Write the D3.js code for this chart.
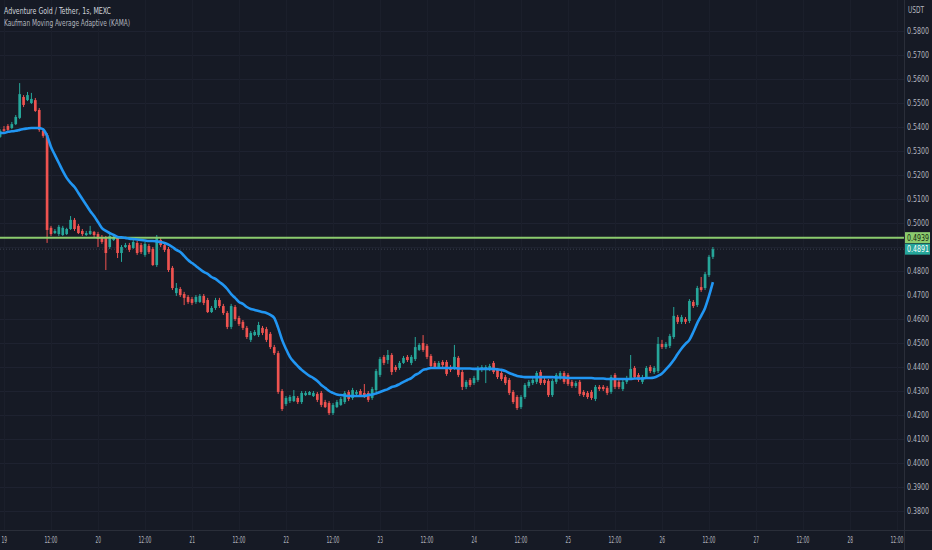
<!DOCTYPE html>
<html>
<head>
<meta charset="utf-8">
<script src="https://cdn.jsdelivr.net/npm/d3@7"></script>
<style>
    body { margin: 0; background: #161a25; }
    svg { display: block; }
    text { font-family: "DejaVu Sans", sans-serif; font-stretch: condensed; }
</style>
</head>
<body>
<svg width="932" height="550"></svg>
<script>
// hourly candles, first one at 18 23:00 (UTC)
const firstCandle = new Date(Date.UTC(2023, 6, 18, 23));

const openP = [
    0.5359, 0.5391, 0.5404, 0.5396, 0.5412, 0.5438, 0.5525, 0.5512, 0.5500, 0.5512,
    0.5471, 0.5384, 0.5367, 0.4980, 0.4958, 0.4954, 0.4950, 0.4954, 0.4975, 0.5013,
    0.4988, 0.4967, 0.4950, 0.4954, 0.4963, 0.4954, 0.4942, 0.4938, 0.4900, 0.4929,
    0.4938, 0.4875, 0.4900, 0.4908, 0.4896, 0.4917, 0.4908, 0.4867, 0.4904, 0.4892,
    0.4825, 0.4929, 0.4908, 0.4892, 0.4813, 0.4708, 0.4725, 0.4704, 0.4692, 0.4683,
    0.4671, 0.4671, 0.4696, 0.4679, 0.4629, 0.4646, 0.4679, 0.4654, 0.4625, 0.4567,
    0.4650, 0.4604, 0.4588, 0.4563, 0.4513, 0.4533, 0.4533, 0.4563, 0.4558, 0.4538,
    0.4483, 0.4458, 0.4300, 0.4246, 0.4258, 0.4258, 0.4271, 0.4254, 0.4283, 0.4283,
    0.4279, 0.4288, 0.4292, 0.4254, 0.4250, 0.4208, 0.4233, 0.4242, 0.4254, 0.4296,
    0.4271, 0.4288, 0.4300, 0.4292, 0.4292, 0.4271, 0.4304, 0.4367, 0.4442, 0.4429,
    0.4450, 0.4400, 0.4396, 0.4417, 0.4442, 0.4417, 0.4433, 0.4471, 0.4500, 0.4488,
    0.4446, 0.4417, 0.4400, 0.4421, 0.4421, 0.4400, 0.4396, 0.4438, 0.4379, 0.4317,
    0.4346, 0.4333, 0.4346, 0.4388, 0.4388, 0.4392, 0.4417, 0.4388, 0.4375, 0.4358,
    0.4346, 0.4296, 0.4275, 0.4233, 0.4275, 0.4321, 0.4333, 0.4338, 0.4379, 0.4346,
    0.4342, 0.4283, 0.4338, 0.4354, 0.4375, 0.4367, 0.4338, 0.4321, 0.4338, 0.4296,
    0.4292, 0.4296, 0.4267, 0.4317, 0.4317, 0.4313, 0.4296, 0.4367, 0.4338, 0.4308,
    0.4338, 0.4354, 0.4396, 0.4367, 0.4338, 0.4358, 0.4400, 0.4379, 0.4383, 0.4496,
    0.4483, 0.4488, 0.4525, 0.4608, 0.4588, 0.4600, 0.4592, 0.4671, 0.4658, 0.4733,
    0.4729, 0.4783, 0.4859
];
const highP = [
    0.5391, 0.5404, 0.5412, 0.5421, 0.5450, 0.5583, 0.5533, 0.5546, 0.5542, 0.5521,
    0.5479, 0.5388, 0.5375, 0.4988, 0.4975, 0.4992, 0.4988, 0.4980, 0.5029, 0.5021,
    0.4996, 0.4975, 0.4967, 0.4988, 0.4967, 0.4963, 0.4950, 0.4946, 0.4958, 0.4950,
    0.4946, 0.4908, 0.4917, 0.4917, 0.4929, 0.4925, 0.4917, 0.4921, 0.4913, 0.4900,
    0.4950, 0.4938, 0.4917, 0.4900, 0.4821, 0.4750, 0.4733, 0.4713, 0.4700, 0.4692,
    0.4700, 0.4704, 0.4704, 0.4688, 0.4654, 0.4688, 0.4688, 0.4663, 0.4633, 0.4663,
    0.4658, 0.4613, 0.4596, 0.4571, 0.4550, 0.4554, 0.4588, 0.4571, 0.4567, 0.4546,
    0.4492, 0.4467, 0.4308, 0.4279, 0.4283, 0.4304, 0.4279, 0.4300, 0.4300, 0.4300,
    0.4300, 0.4296, 0.4300, 0.4263, 0.4258, 0.4250, 0.4263, 0.4275, 0.4300, 0.4304,
    0.4313, 0.4304, 0.4308, 0.4329, 0.4300, 0.4317, 0.4392, 0.4442, 0.4450, 0.4471,
    0.4458, 0.4408, 0.4425, 0.4446, 0.4450, 0.4450, 0.4525, 0.4500, 0.4533, 0.4496,
    0.4454, 0.4425, 0.4425, 0.4429, 0.4429, 0.4408, 0.4492, 0.4446, 0.4388, 0.4346,
    0.4354, 0.4363, 0.4404, 0.4408, 0.4408, 0.4413, 0.4425, 0.4396, 0.4383, 0.4367,
    0.4354, 0.4304, 0.4283, 0.4283, 0.4333, 0.4346, 0.4354, 0.4383, 0.4388, 0.4354,
    0.4350, 0.4350, 0.4375, 0.4383, 0.4383, 0.4375, 0.4346, 0.4342, 0.4346, 0.4304,
    0.4300, 0.4304, 0.4325, 0.4325, 0.4325, 0.4321, 0.4367, 0.4375, 0.4346, 0.4346,
    0.4363, 0.4450, 0.4404, 0.4375, 0.4367, 0.4404, 0.4408, 0.4404, 0.4525, 0.4513,
    0.4504, 0.4538, 0.4650, 0.4617, 0.4617, 0.4608, 0.4683, 0.4679, 0.4738, 0.4775,
    0.4796, 0.4867, 0.4900
];
const lowP = [
    0.5355, 0.5380, 0.5384, 0.5391, 0.5408, 0.5433, 0.5483, 0.5508, 0.5496, 0.5463,
    0.5380, 0.5355, 0.4917, 0.4946, 0.4954, 0.4946, 0.4946, 0.4950, 0.4971, 0.4967,
    0.4954, 0.4946, 0.4946, 0.4950, 0.4942, 0.4900, 0.4913, 0.4804, 0.4892, 0.4925,
    0.4854, 0.4838, 0.4896, 0.4879, 0.4892, 0.4867, 0.4871, 0.4859, 0.4871, 0.4821,
    0.4817, 0.4900, 0.4879, 0.4796, 0.4721, 0.4696, 0.4692, 0.4658, 0.4663, 0.4658,
    0.4663, 0.4667, 0.4658, 0.4625, 0.4625, 0.4638, 0.4646, 0.4617, 0.4558, 0.4558,
    0.4592, 0.4571, 0.4554, 0.4517, 0.4504, 0.4529, 0.4525, 0.4533, 0.4504, 0.4475,
    0.4450, 0.4288, 0.4217, 0.4238, 0.4250, 0.4254, 0.4246, 0.4246, 0.4279, 0.4283,
    0.4275, 0.4254, 0.4233, 0.4229, 0.4200, 0.4200, 0.4229, 0.4238, 0.4246, 0.4258,
    0.4263, 0.4283, 0.4279, 0.4271, 0.4254, 0.4263, 0.4296, 0.4358, 0.4408, 0.4413,
    0.4367, 0.4379, 0.4388, 0.4413, 0.4421, 0.4408, 0.4425, 0.4467, 0.4463, 0.4433,
    0.4396, 0.4392, 0.4392, 0.4400, 0.4363, 0.4379, 0.4388, 0.4358, 0.4304, 0.4308,
    0.4317, 0.4325, 0.4338, 0.4379, 0.4333, 0.4383, 0.4371, 0.4350, 0.4342, 0.4325,
    0.4283, 0.4246, 0.4221, 0.4225, 0.4267, 0.4313, 0.4325, 0.4329, 0.4325, 0.4325,
    0.4275, 0.4275, 0.4329, 0.4346, 0.4329, 0.4321, 0.4313, 0.4313, 0.4279, 0.4275,
    0.4267, 0.4263, 0.4258, 0.4300, 0.4300, 0.4283, 0.4288, 0.4308, 0.4308, 0.4300,
    0.4329, 0.4346, 0.4350, 0.4338, 0.4329, 0.4350, 0.4375, 0.4371, 0.4375, 0.4475,
    0.4475, 0.4479, 0.4517, 0.4579, 0.4579, 0.4579, 0.4583, 0.4646, 0.4650, 0.4713,
    0.4721, 0.4775, 0.4850
];
const closeP = [
    0.5384, 0.5384, 0.5388, 0.5412, 0.5442, 0.5537, 0.5492, 0.5533, 0.5517, 0.5467,
    0.5388, 0.5363, 0.4971, 0.4954, 0.4967, 0.4984, 0.4980, 0.4975, 0.5013, 0.4975,
    0.4958, 0.4954, 0.4958, 0.4967, 0.4950, 0.4933, 0.4921, 0.4875, 0.4946, 0.4942,
    0.4875, 0.4900, 0.4908, 0.4888, 0.4921, 0.4875, 0.4879, 0.4913, 0.4879, 0.4825,
    0.4942, 0.4908, 0.4888, 0.4804, 0.4729, 0.4729, 0.4700, 0.4688, 0.4671, 0.4667,
    0.4692, 0.4696, 0.4667, 0.4629, 0.4646, 0.4679, 0.4654, 0.4625, 0.4567, 0.4654,
    0.4600, 0.4579, 0.4563, 0.4525, 0.4542, 0.4546, 0.4575, 0.4542, 0.4513, 0.4483,
    0.4458, 0.4296, 0.4225, 0.4271, 0.4275, 0.4279, 0.4254, 0.4292, 0.4292, 0.4296,
    0.4292, 0.4263, 0.4242, 0.4233, 0.4208, 0.4242, 0.4254, 0.4267, 0.4292, 0.4267,
    0.4304, 0.4296, 0.4283, 0.4279, 0.4263, 0.4308, 0.4383, 0.4433, 0.4417, 0.4450,
    0.4379, 0.4388, 0.4417, 0.4438, 0.4429, 0.4442, 0.4483, 0.4492, 0.4471, 0.4442,
    0.4404, 0.4400, 0.4417, 0.4408, 0.4371, 0.4388, 0.4442, 0.4367, 0.4317, 0.4338,
    0.4325, 0.4354, 0.4396, 0.4400, 0.4400, 0.4404, 0.4379, 0.4358, 0.4350, 0.4333,
    0.4292, 0.4254, 0.4229, 0.4275, 0.4325, 0.4338, 0.4346, 0.4375, 0.4333, 0.4333,
    0.4283, 0.4342, 0.4367, 0.4375, 0.4338, 0.4329, 0.4321, 0.4333, 0.4288, 0.4283,
    0.4275, 0.4271, 0.4317, 0.4308, 0.4308, 0.4292, 0.4358, 0.4317, 0.4317, 0.4338,
    0.4354, 0.4392, 0.4358, 0.4346, 0.4358, 0.4396, 0.4383, 0.4396, 0.4496, 0.4483,
    0.4496, 0.4529, 0.4613, 0.4588, 0.4608, 0.4588, 0.4675, 0.4654, 0.4729, 0.4721,
    0.4787, 0.4859, 0.4891
];
const kamaP = [
    0.5375, 0.5375, 0.5380, 0.5382, 0.5384, 0.5388, 0.5392, 0.5394, 0.5396, 0.5396,
    0.5396, 0.5390, 0.5363, 0.5317, 0.5283, 0.5250, 0.5217, 0.5188, 0.5167, 0.5150,
    0.5125, 0.5100, 0.5075, 0.5050, 0.5029, 0.5004, 0.4979, 0.4967, 0.4958, 0.4950,
    0.4942, 0.4940, 0.4938, 0.4935, 0.4933, 0.4931, 0.4929, 0.4927, 0.4925, 0.4925,
    0.4923, 0.4921, 0.4917, 0.4910, 0.4900, 0.4888, 0.4879, 0.4863, 0.4846, 0.4833,
    0.4821, 0.4808, 0.4796, 0.4788, 0.4775, 0.4767, 0.4754, 0.4742, 0.4725, 0.4704,
    0.4688, 0.4671, 0.4663, 0.4650, 0.4642, 0.4638, 0.4633, 0.4629, 0.4625, 0.4617,
    0.4604, 0.4563, 0.4513, 0.4475, 0.4442, 0.4421, 0.4404, 0.4388, 0.4375, 0.4363,
    0.4354, 0.4342, 0.4325, 0.4313, 0.4300, 0.4292, 0.4285, 0.4283, 0.4281, 0.4279,
    0.4279, 0.4279, 0.4279, 0.4279, 0.4283, 0.4285, 0.4290, 0.4296, 0.4302, 0.4308,
    0.4317, 0.4321, 0.4329, 0.4338, 0.4346, 0.4354, 0.4367, 0.4375, 0.4388, 0.4392,
    0.4396, 0.4396, 0.4396, 0.4396, 0.4396, 0.4396, 0.4396, 0.4394, 0.4394, 0.4394,
    0.4394, 0.4392, 0.4392, 0.4392, 0.4392, 0.4392, 0.4392, 0.4390, 0.4388, 0.4383,
    0.4375, 0.4369, 0.4363, 0.4360, 0.4358, 0.4358, 0.4358, 0.4358, 0.4358, 0.4358,
    0.4358, 0.4358, 0.4356, 0.4356, 0.4356, 0.4354, 0.4354, 0.4354, 0.4354, 0.4354,
    0.4354, 0.4354, 0.4352, 0.4352, 0.4352, 0.4350, 0.4350, 0.4350, 0.4350, 0.4350,
    0.4350, 0.4350, 0.4352, 0.4352, 0.4352, 0.4354, 0.4354, 0.4356, 0.4363, 0.4373,
    0.4390, 0.4408, 0.4429, 0.4454, 0.4477, 0.4496, 0.4513, 0.4546, 0.4583, 0.4613,
    0.4646, 0.4696, 0.4754
];

const levelPrice = 0.4939;   // green horizontal line
const titleText = 'Adventure Gold / Tether, 1s, MEXC';
const studyText = 'Kaufman Moving Average Adaptive (KAMA)';
const unitText = 'USDT';

const svg = d3.select('svg');
const plotW = 904, plotH = 530;

const x = d3.scaleUtc()
    .domain([new Date(Date.UTC(2023, 6, 19, 0)), new Date(Date.UTC(2023, 6, 28, 12))])
    .range([4, 897]);
const y = d3.scaleLinear().domain([0.38, 0.58]).range([511, 31]);

const candles = closeP.map((c, i) => ({
    t: d3.utcHour.offset(firstCandle, i),
    o: openP[i], h: highP[i], l: lowP[i], c: c, k: kamaP[i]
}));
const last = candles[candles.length - 1];

// squeeze a label to a given width (the reference uses a narrow face)
function narrow(sel, w) {
    sel.each(function (d) {
        const len = this.getComputedTextLength();
        const target = typeof w === 'function' ? w(d) : w;
        if (len > target) {
            d3.select(this).attr('textLength', target).attr('lengthAdjust', 'spacingAndGlyphs');
        }
    });
}

// grid
const xTicks = x.ticks(d3.utcHour.every(12));
const yTicks = y.ticks(20);
const grid = svg.append('g');
grid.selectAll('line.h')
    .data(yTicks)
    .join('line')
    .attr('class', 'h')
    .attr('x1', 0).attr('x2', plotW)
    .attr('y1', d => y(d) + 0.5).attr('y2', d => y(d) + 0.5)
    .attr('stroke', '#1e2230');
grid.selectAll('line.v')
    .data(xTicks)
    .join('line')
    .attr('class', 'v')
    .attr('y1', 0).attr('y2', plotH)
    .attr('x1', d => Math.round(x(d)) + 0.5).attr('x2', d => Math.round(x(d)) + 0.5)
    .attr('stroke', '#1b1f2b');

// last price line
svg.append('line')
    .attr('x1', 0).attr('x2', plotW)
    .attr('y1', y(last.c)).attr('y2', y(last.c))
    .attr('stroke', '#3a4050')
    .attr('stroke-dasharray', '1 2');

// candles
const bw = (x(d3.utcHour.offset(firstCandle, 1)) - x(firstCandle)) * 0.68;
const candle = svg.append('g').selectAll('g')
    .data(candles)
    .join('g')
    .attr('fill', d => d.c >= d.o ? '#26a69a' : '#ef5350')
    .attr('stroke', d => d.c >= d.o ? '#26a69a' : '#ef5350');

candle.append('line')
    .attr('x1', d => x(d.t)).attr('x2', d => x(d.t))
    .attr('y1', d => y(d.h)).attr('y2', d => y(d.l))
    .attr('stroke-width', 1);

candle.append('rect')
    .attr('x', d => x(d.t) - bw / 2)
    .attr('width', bw)
    .attr('y', d => y(Math.max(d.o, d.c)))
    .attr('height', d => Math.max(1, Math.abs(y(d.o) - y(d.c))))
    .attr('stroke', 'none');

// green level line
svg.append('line')
    .attr('x1', 0).attr('x2', plotW)
    .attr('y1', y(levelPrice)).attr('y2', y(levelPrice))
    .attr('stroke', '#8bcb6e')
    .attr('stroke-width', 2);

// KAMA
svg.append('path')
    .datum(candles)
    .attr('fill', 'none')
    .attr('stroke', '#2196f3')
    .attr('stroke-width', 2.6)
    .attr('stroke-linejoin', 'round')
    .attr('d', d3.line().x(d => x(d.t)).y(d => y(d.k)).curve(d3.curveMonotoneX));

// axis panels
svg.append('rect')
    .attr('x', plotW).attr('y', 0)
    .attr('width', 932 - plotW).attr('height', 550)
    .attr('fill', '#161a25');
svg.append('rect')
    .attr('x', 0).attr('y', plotH)
    .attr('width', 932).attr('height', 550 - plotH)
    .attr('fill', '#161a25');
svg.append('line')
    .attr('x1', plotW + 0.5).attr('x2', plotW + 0.5)
    .attr('y1', 0).attr('y2', 550)
    .attr('stroke', '#2a2e39');
svg.append('line')
    .attr('x1', 0).attr('x2', 932)
    .attr('y1', plotH + 0.5).attr('y2', plotH + 0.5)
    .attr('stroke', '#2a2e39');

// price labels on the axis
const tags = [
    { v: levelPrice, bg: '#8bcb6e', fg: '#14260f' },
    { v: last.c, bg: '#26a69a', fg: '#ffffff' }
];

// right axis labels (the tags hide the ones they cover)
const shownTicks = yTicks.filter(t => tags.every(g => Math.abs(y(t) - y(g.v)) > 9));
svg.append('g').selectAll('text')
    .data(shownTicks)
    .join('text')
    .attr('x', plotW + 3)
    .attr('y', d => y(d) + 3)
    .attr('font-size', 8)
    .attr('fill', '#b2b5be')
    .text(d3.format('.4f'))
    .call(narrow, 22);

svg.append('text')
    .attr('x', plotW + 4).attr('y', 13)
    .attr('font-size', 8)
    .attr('fill', '#b2b5be')
    .text(unitText)
    .call(narrow, 16);

// bottom axis labels
svg.append('g').selectAll('text')
    .data(xTicks)
    .join('text')
    .attr('x', d => x(d) - (d.getUTCHours() === 0 ? 2.5 : 6.5))
    .attr('y', 543)
    .attr('font-size', 8.5)
    .attr('fill', '#b2b5be')
    .text(d => d.getUTCHours() === 0 ? d3.utcFormat('%-d')(d) : d3.utcFormat('%H:%M')(d))
    .call(narrow, d => d.getUTCHours() === 0 ? 5.5 : 13);

const tag = svg.append('g').selectAll('g')
    .data(tags)
    .join('g');
tag.append('rect')
    .attr('x', plotW + 1)
    .attr('y', d => y(d.v) - 5.5)
    .attr('width', 25).attr('height', 11)
    .attr('fill', d => d.bg);
tag.append('text')
    .attr('x', plotW + 3)
    .attr('y', d => y(d.v) + 3)
    .attr('font-size', 8)
    .attr('fill', d => d.fg)
    .text(d => d3.format('.4f')(d.v))
    .call(narrow, 22);

// legend
svg.append('text')
    .attr('x', 4).attr('y', 14)
    .attr('font-size', 9)
    .attr('fill', '#d1d4dc')
    .text(titleText)
    .call(narrow, 107);
svg.append('text')
    .attr('x', 4).attr('y', 26)
    .attr('font-size', 9)
    .attr('fill', '#b2b5be')
    .text(studyText)
    .call(narrow, 126);
</script>
</body>
</html>
